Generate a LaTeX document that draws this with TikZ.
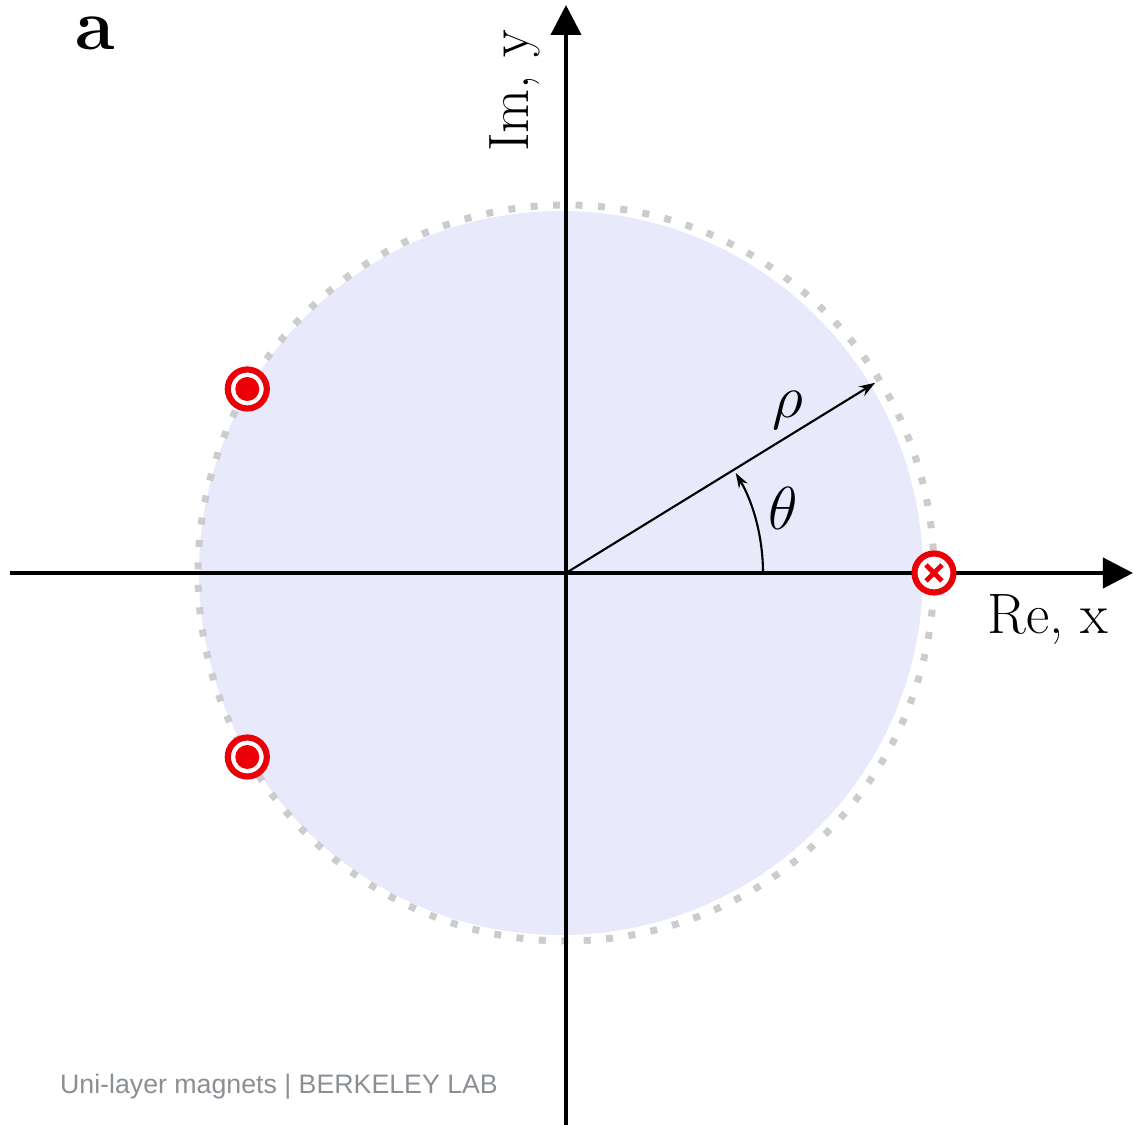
\documentclass[tikz,border=0pt]{standalone}
\usepackage{amsmath,amssymb}
\usepackage{fontspec}
\usepackage{xcolor}
\usepackage{tikz}
\usetikzlibrary{arrows.meta,calc}
\newfontfamily\marcafont{Liberation Sans}
\definecolor{DiscoLila}{RGB}{232,233,251}
\definecolor{PuntoGris}{RGB}{204,204,204}
\definecolor{RojoPolo}{RGB}{236,0,8}
\definecolor{GrisMarca}{RGB}{138,143,148}
\tikzset{
  polo/.style={RojoPolo,line width=1.75pt,fill=white},
  eje/.style={line width=1.15pt,-{Triangle[length=0.3cm,width=0.3cm]}}
}

\begin{document}
\begin{tikzpicture}[x=0.01cm,y=0.01cm]
  \useasboundingbox (-566,-552) rectangle (567,573);
  \coordinate (O) at (0,0);
  \fill[DiscoLila] (-5,0) circle[radius=362];
  \draw[PuntoGris,line width=0.07cm,dash pattern=on 0.07cm off 0.1545cm] (O) circle[radius=368];
  % ejes
  \coordinate (xi) at (-556,0); \coordinate (xf) at (567,0);
  \coordinate (yi) at (0,-552); \coordinate (yf) at (0,568);
  \draw[eje] (xi)--(xf);
  \draw[eje] (yi)--(yf);
  \node (re) at (482,-47) {\fontsize{16.2}{19}\selectfont Re, x};
  \node[rotate=90] (im) at (-51,482) {\fontsize{16.2}{19}\selectfont Im, y};
  % radio y angulo
  \coordinate (P) at (31.6:363);
  \draw[line width=0.6pt,-{Stealth[length=0.16cm,width=0.11cm]}] (O)--(P);
  \coordinate (A) at (197,0);
  \draw[line width=0.6pt,-{Stealth[length=0.15cm,width=0.1cm]}] (A) arc[start angle=0,end angle=30.5,radius=197];
  \node (rho) at (222,163) {\fontsize{17}{20}\selectfont $\rho$};
  \node (theta) at (217,65) {\fontsize{17}{20}\selectfont $\theta$};
  % polos
  \foreach \ang/\nombre in {150/p1,210/p2} {
    \draw[polo] (\ang:368) circle[radius=19.5];
    \fill[RojoPolo] (\ang:368) circle[radius=12];
  }
  \draw[polo] (0:368) circle[radius=19.5];
  \draw[RojoPolo,line width=1.4pt] ($(0:368)+(-8,-8)$)--($(0:368)+(8,8)$)
    ($(0:368)+(-8,8)$)--($(0:368)+(8,-8)$);
  \node[inner sep=0pt] (etiq) at (-471,540) {\fontsize{20.5}{24}\selectfont\bfseries a};
  \node[GrisMarca] (marca) at (-287,-514) {\marcafont\fontsize{7.6}{9}\selectfont Uni-layer magnets | BERKELEY LAB};
\end{tikzpicture}
\end{document}
